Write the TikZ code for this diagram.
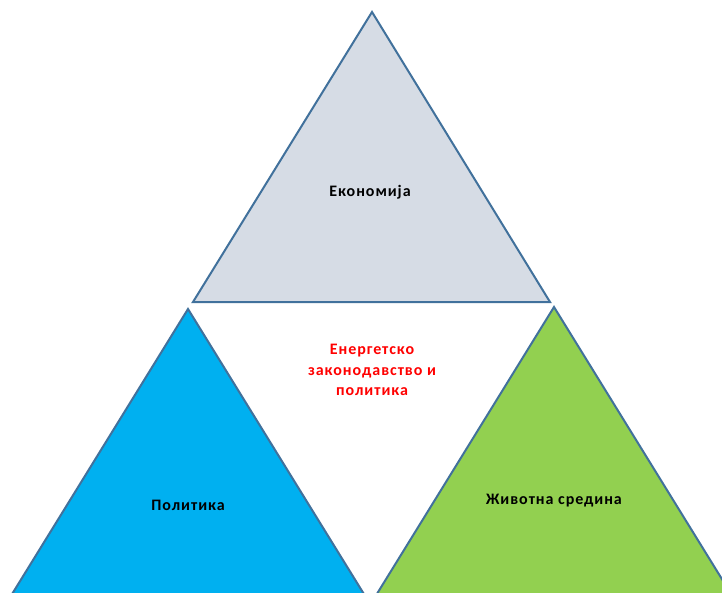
\documentclass[tikz,border=0pt]{standalone}
\usepackage{fontspec}
\setmainfont{Carlito}[LetterSpace=6]
\definecolor{edge}{HTML}{41719C}
\definecolor{topfill}{HTML}{D6DCE5}
\definecolor{bluefill}{HTML}{00B0F0}
\definecolor{greenfill}{HTML}{92D050}
\begin{document}
\begin{tikzpicture}[x=1pt,y=-1pt,
  tri/.style={draw=edge,line width=2pt,line join=miter},
  lbl/.style={font=\fontsize{16}{20.5}\selectfont\bfseries,align=center,inner sep=0pt}]
\useasboundingbox (0,0) rectangle (722,592);
\clip (0,0) rectangle (722,592);
\fill[white] (0,0) rectangle (722,592);
% top triangle
\draw[tri,fill=topfill] (372,12) -- (550,302) -- (193,302) -- cycle;
% left triangle
\draw[tri,fill=bluefill] (188,309) -- (367,599) -- (9,599) -- cycle;
% right triangle
\draw[tri,fill=greenfill] (554,307) -- (733,597) -- (375,597) -- cycle;
\node[lbl] (econ) at (370,192) {Економија};
\node[lbl,text=red] (center) at (372,370) {Енергетско\\законодавство и\\политика};
\node[lbl] (pol) at (188,505) {Политика};
\node[lbl] (env) at (554,501) {Животна средина};
\end{tikzpicture}
\end{document}
